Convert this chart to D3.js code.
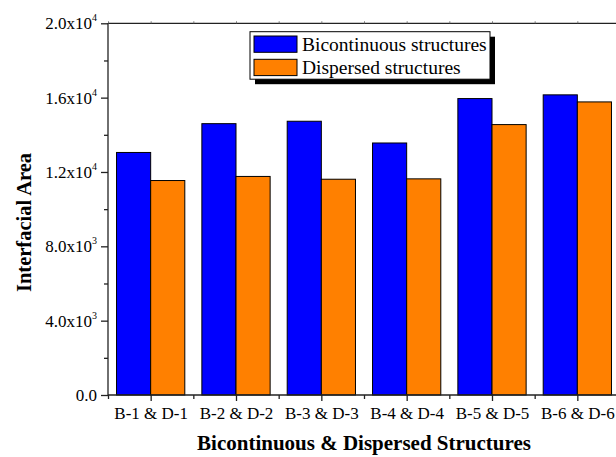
<!DOCTYPE html>
<html>
<head>
<meta charset="utf-8">
<script src="https://cdn.jsdelivr.net/npm/d3@7/dist/d3.min.js"></script>
<style>
  html, body { margin: 0; padding: 0; background: #fff; overflow: hidden; }
  svg { display: block; }
</style>
</head>
<body>
<svg id="chart" width="616" height="457"></svg>
<script>
// Interfacial area of paired structures
const categories = ["B-1 & D-1", "B-2 & D-2", "B-3 & D-3", "B-4 & D-4", "B-5 & D-5", "B-6 & D-6"];
const seriesNames = ["Bicontinuous structures", "Dispersed structures"];
const bicontinuous = [13050, 14600, 14730, 13560, 15950, 16150];
const dispersed = [11540, 11760, 11610, 11630, 14550, 15770];
const seriesColors = ["#0000FF", "#FF8000"];

const yTicks = [0, 4000, 8000, 12000, 16000, 20000];
const yTickBase = ["0.0", "4.0x10", "8.0x10", "1.2x10", "1.6x10", "2.0x10"];
const yTickExp = ["", "3", "3", "4", "4", "4"];
const yMinorTicks = [2000, 6000, 10000, 14000, 18000];

const SERIF = "'Liberation Serif', 'Times New Roman', serif";
const svg = d3.select("#chart");
const plotLeft = 108, plotRight = 620, plotTop = 23.3, plotBottom = 395;

const x = d3.scaleBand().domain(categories).range([plotLeft, plotRight]).padding(0);
const xs = d3.scaleBand().domain(seriesNames).range([0, x.bandwidth()])
  .paddingInner(0).paddingOuter(0.25);
const y = d3.scaleLinear().domain([0, 20000]).range([plotBottom, plotTop]);

const rows = categories.map((c, i) => ({ cat: c, vals: [bicontinuous[i], dispersed[i]] }));

// bars
const groups = svg.append("g").selectAll("g").data(rows).join("g")
  .attr("transform", d => `translate(${x(d.cat)},0)`);
groups.selectAll("rect").data(d => d.vals.map((v, k) => ({ v, k })))
  .join("rect")
  .attr("x", d => xs(seriesNames[d.k]))
  .attr("y", d => y(d.v))
  .attr("width", xs.bandwidth())
  .attr("height", d => y(0) - y(d.v))
  .attr("fill", d => seriesColors[d.k])
  .attr("stroke", "#000")
  .attr("stroke-width", 1);

// frame
const frame = svg.append("g").attr("stroke", "#222").attr("stroke-width", 1.3).attr("fill", "none");
frame.append("line").attr("x1", plotLeft).attr("x2", plotLeft).attr("y1", plotTop).attr("y2", plotBottom);
frame.append("line").attr("x1", plotLeft).attr("x2", plotRight).attr("y1", plotBottom).attr("y2", plotBottom);
frame.append("line").attr("x1", plotLeft).attr("x2", plotRight).attr("y1", plotTop).attr("y2", plotTop);
frame.append("line").attr("x1", plotRight).attr("x2", plotRight).attr("y1", plotTop).attr("y2", plotBottom);

// y axis ticks
const yAxis = svg.append("g").attr("transform", `translate(${plotLeft},0)`)
  .call(d3.axisLeft(y).tickValues(yTicks).tickSize(7).tickFormat(""));
yAxis.select(".domain").remove();
yAxis.selectAll(".tick line").attr("stroke", "#222").attr("stroke-width", 1.3);
const yMinor = svg.append("g").attr("transform", `translate(${plotLeft},0)`)
  .call(d3.axisLeft(y).tickValues(yMinorTicks).tickSize(4).tickFormat(""));
yMinor.select(".domain").remove();
yMinor.selectAll(".tick line").attr("stroke", "#222").attr("stroke-width", 1.3);

// y tick labels with superscript exponents
const yLab = svg.append("g").selectAll("text").data(yTicks).join("text")
  .attr("x", 97)
  .attr("y", d => y(d) + 6)
  .attr("text-anchor", "end")
  .style("font-family", SERIF)
  .style("font-size", "17px")
  .attr("fill", "#000");
yLab.append("tspan").text((d, i) => yTickBase[i]);
yLab.append("tspan").attr("dy", -8).style("font-size", "10px").text((d, i) => yTickExp[i]);

// x axis ticks
const xCenters = categories.map(c => x(c) + x.bandwidth() / 2);
const xEdges = categories.map(c => x(c)).concat([plotRight]);
const xPos = d3.scaleIdentity();
const xMajor = svg.append("g").attr("transform", `translate(0,${plotBottom})`)
  .call(d3.axisBottom(xPos).tickValues(xCenters).tickSize(6).tickFormat((d, i) => categories[i]));
xMajor.select(".domain").remove();
xMajor.selectAll(".tick line").attr("stroke", "#222").attr("stroke-width", 1.3);
xMajor.selectAll(".tick text")
  .attr("y", 0).attr("dy", null)
  .attr("transform", "translate(0,24)")
  .style("font-family", SERIF)
  .style("font-size", "17px")
  .attr("fill", "#000");
const xMinor = svg.append("g").attr("transform", `translate(0,${plotBottom})`)
  .call(d3.axisBottom(xPos).tickValues(xEdges).tickSize(4).tickFormat(""));
xMinor.select(".domain").remove();
xMinor.selectAll(".tick line").attr("stroke", "#222").attr("stroke-width", 1.3);

// small ticks along the top edge
const topTicks = svg.append("g").attr("transform", `translate(0,${plotTop})`)
  .call(d3.axisTop(xPos).tickValues(xCenters.concat(xEdges)).tickSize(2).tickFormat(""));
topTicks.select(".domain").remove();
topTicks.selectAll(".tick line").attr("stroke", "#777").attr("stroke-width", 1);

// axis titles
svg.append("text")
  .attr("x", (plotLeft + plotRight) / 2).attr("y", 450)
  .attr("text-anchor", "middle")
  .style("font-family", SERIF).style("font-size", "21px").style("font-weight", "bold")
  .text("Bicontinuous & Dispersed Structures");
svg.append("text")
  .attr("transform", "translate(31,222.5) rotate(-90)")
  .attr("text-anchor", "middle")
  .style("font-family", SERIF).style("font-size", "20.5px").style("font-weight", "bold")
  .text("Interfacial Area");

// legend with drop shadow
const lg = svg.append("g");
lg.append("rect").attr("x", 255).attr("y", 36.7).attr("width", 240).attr("height", 47.5).attr("fill", "#000");
lg.append("rect").attr("x", 250).attr("y", 31.7).attr("width", 240).attr("height", 47.5)
  .attr("fill", "#fff").attr("stroke", "#000").attr("stroke-width", 1);
seriesNames.forEach((name, k) => {
  lg.append("rect").attr("x", 254).attr("y", 36 + k * 23.3).attr("width", 43).attr("height", 16.3)
    .attr("fill", seriesColors[k]).attr("stroke", "#000").attr("stroke-width", 1);
  lg.append("text").attr("x", 302).attr("y", 51 + k * 23.3)
    .style("font-family", SERIF).style("font-size", "19.5px").text(name);
});
</script>
</body>
</html>
